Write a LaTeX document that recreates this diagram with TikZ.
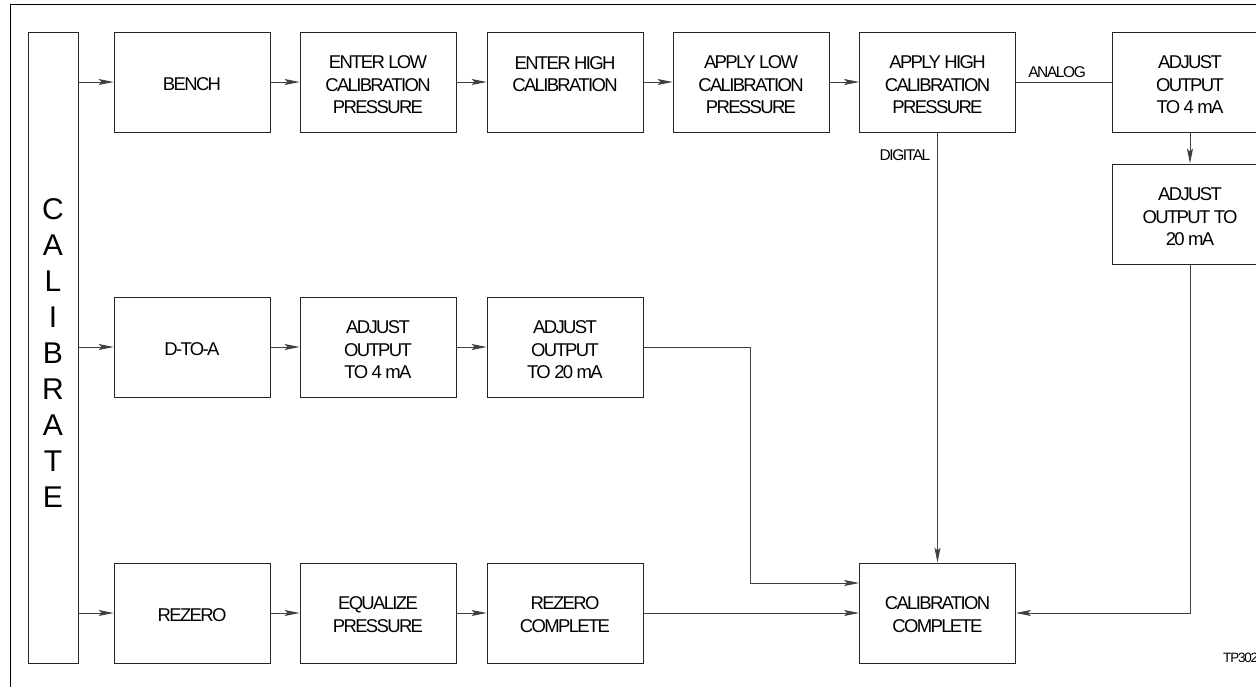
\documentclass[tikz,border=0pt]{standalone}
\usepackage{fontspec}
\setmainfont{Liberation Sans}[LetterSpace=-9]
\usetikzlibrary{arrows.meta}
\begin{document}
\begin{tikzpicture}[x=1pt,y=-1pt,
  stepbox/.style={draw=black!85, line width=0.9pt, minimum width=156pt, minimum height=100pt,
    inner sep=0pt},
  steptext/.style={align=center, font=\fontsize{18.5}{22.5}\selectfont, inner sep=0pt, yshift=-3pt},
  flow/.style={draw=black!75, line width=0.9pt},
  arr/.style={flow, -{Stealth[length=15pt,width=6pt,inset=3pt]}},
  tag/.style={font=\fontsize{15.5}{17}\selectfont, inner sep=0pt}]
\useasboundingbox (0,0) rectangle (1256,687);
\clip (0,0) rectangle (1256,687);

% frame
\draw[black, line width=1pt] (10,690) -- (10,5) -- (1270,5);

% side column
\node[draw=black!85, line width=0.9pt, minimum width=50pt, minimum height=631pt, inner sep=0pt,
  label={[align=center, inner sep=0pt, yshift=-6pt, font=\fontsize{30}{36}\selectfont]center:C\\A\\L\\I\\B\\R\\A\\T\\E}]
  (cal) at (53,347.5) {};

% bench calibration row
\node[stepbox, label={[steptext, yshift=1pt]center:BENCH}] (bench) at (192,82) {};
\node[stepbox, label={[steptext]center:ENTER LOW\\CALIBRATION\\PRESSURE}] (elow) at (378,82) {};
\node[stepbox, label={[steptext, yshift=11pt]center:ENTER HIGH\\CALIBRATION}] (ehigh) at (565,82) {};
\node[stepbox, label={[steptext]center:APPLY LOW\\CALIBRATION\\PRESSURE}] (alow) at (751,82) {};
\node[stepbox, label={[steptext]center:APPLY HIGH\\CALIBRATION\\PRESSURE}] (ahigh) at (937.5,82) {};
\node[stepbox, label={[steptext]center:ADJUST\\OUTPUT\\TO 4 mA}] (a4) at (1190,82) {};
\node[stepbox, label={[steptext]center:ADJUST\\OUTPUT TO\\20 mA}] (a20) at (1190,214) {};

% D-to-A row
\node[stepbox, label={[steptext, yshift=1pt]center:D-TO-A}] (dtoa) at (192,347) {};
\node[stepbox, label={[steptext]center:ADJUST\\OUTPUT\\TO 4 mA}] (d4) at (378,347) {};
\node[stepbox, label={[steptext]center:ADJUST\\OUTPUT\\TO 20 mA}] (d20) at (565,347) {};

% rezero row
\node[stepbox, label={[steptext, yshift=1pt]center:REZERO}] (rz) at (192,613) {};
\node[stepbox, label={[steptext, yshift=1.5pt]center:EQUALIZE\\PRESSURE}] (eq) at (378,613) {};
\node[stepbox, label={[steptext, yshift=1.5pt]center:REZERO\\COMPLETE}] (rzc) at (565,613) {};
\node[stepbox, label={[steptext, yshift=1.5pt]center:CALIBRATION\\COMPLETE}] (cc) at (937.5,613) {};

% connectors
\draw[arr] (cal.east |- bench) -- (bench);
\draw[arr] (cal.east |- dtoa) -- (dtoa);
\draw[arr] (cal.east |- rz) -- (rz);
\draw[arr] (bench) -- (elow);
\draw[arr] (elow) -- (ehigh);
\draw[arr] (ehigh) -- (alow);
\draw[arr] (alow) -- (ahigh);
\draw[flow] (ahigh) -- node[tag, pos=0.43, above=4pt] (lana) {ANALOG} (a4);
\draw[arr] (a4) -- (a20);
\draw[arr] (ahigh) -- (cc);
\node[tag, anchor=east] (ldig) at ([xshift=-7pt, yshift=-23pt]ahigh.south) {DIGITAL};
\draw[arr] (dtoa) -- (d4);
\draw[arr] (d4) -- (d20);
\coordinate (bend) at (750,347);
\draw[arr] (d20.east) -- (bend) |- ([yshift=30pt]cc.west);
\draw[arr] (rz) -- (eq);
\draw[arr] (eq) -- (rzc);
\draw[arr] (rzc) -- (cc);
\draw[arr] (a20.south) |- (cc.east);

\node[font=\fontsize{13.5}{15}\selectfont, anchor=west, inner sep=0pt] (tp) at (1223,658) {TP302};
\end{tikzpicture}
\end{document}
